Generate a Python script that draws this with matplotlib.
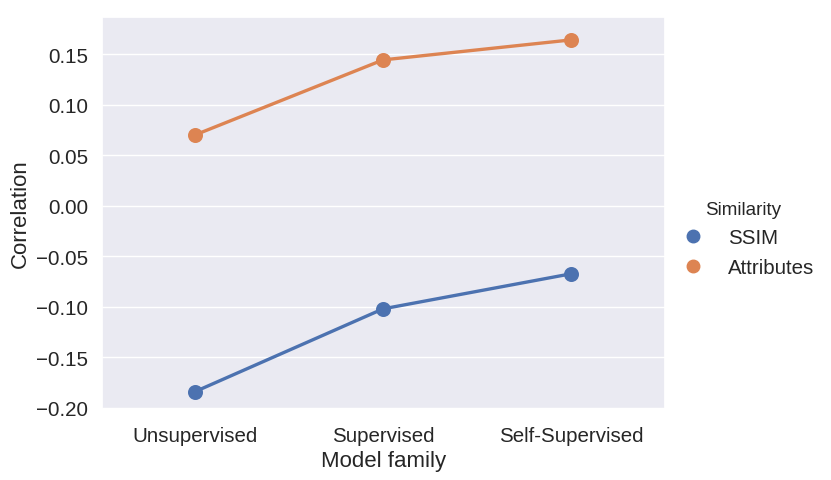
import matplotlib
matplotlib.use("Agg")
import matplotlib.pyplot as plt
import seaborn as sns
import pandas as pd

families = ["Unsupervised", "Supervised", "Self-Supervised"]
ssim = [-0.184, -0.102, -0.0673]
attributes = [0.0703, 0.1446, 0.1644]

df = pd.DataFrame({
    "Model family": families * 2,
    "Correlation": ssim + attributes,
    "Similarity": ["SSIM"] * 3 + ["Attributes"] * 3,
})

sns.set_theme(style="darkgrid")
plt.rcParams["font.family"] = ["Liberation Sans", "DejaVu Sans"]

fig = plt.figure(figsize=(8.31, 4.81), dpi=100)
ax = fig.add_axes([102 / 831, 1 - 410 / 481, 563 / 831, 392 / 481])

sns.pointplot(data=df, x="Model family", y="Correlation", hue="Similarity",
              order=families, hue_order=["SSIM", "Attributes"],
              markersize=9, linewidth=2.4, ax=ax, legend=False)

ax.set_xlim(-0.495, 2.5)
ax.set_ylim(-0.2012, 0.1871)
ax.set_yticks([-0.20, -0.15, -0.10, -0.05, 0.00, 0.05, 0.10, 0.15])
ax.set_yticklabels(["\u22120.20", "\u22120.15", "\u22120.10", "\u22120.05",
                    "0.00", "0.05", "0.10", "0.15"])
ax.tick_params(axis="y", labelsize=14.8, pad=4)
ax.tick_params(axis="x", labelsize=14.8, pad=6)
ax.set_xlabel("Model family", fontsize=16, labelpad=4)
ax.set_ylabel("Correlation", fontsize=16, labelpad=3.5)

pal = sns.color_palette()
handles = [plt.Line2D([], [], marker="o", linestyle="", color=pal[0], markersize=9),
           plt.Line2D([], [], marker="o", linestyle="", color=pal[1], markersize=9)]
leg = fig.legend(handles, ["SSIM", "Attributes"], title="Similarity",
                 loc="center left", bbox_to_anchor=(654 / 831, 1 - 240 / 481),
                 frameon=False, fontsize=14.8, title_fontsize=13.6,
                 handletextpad=0.7, labelspacing=0.5)

fig.savefig("out.png", dpi=100)
